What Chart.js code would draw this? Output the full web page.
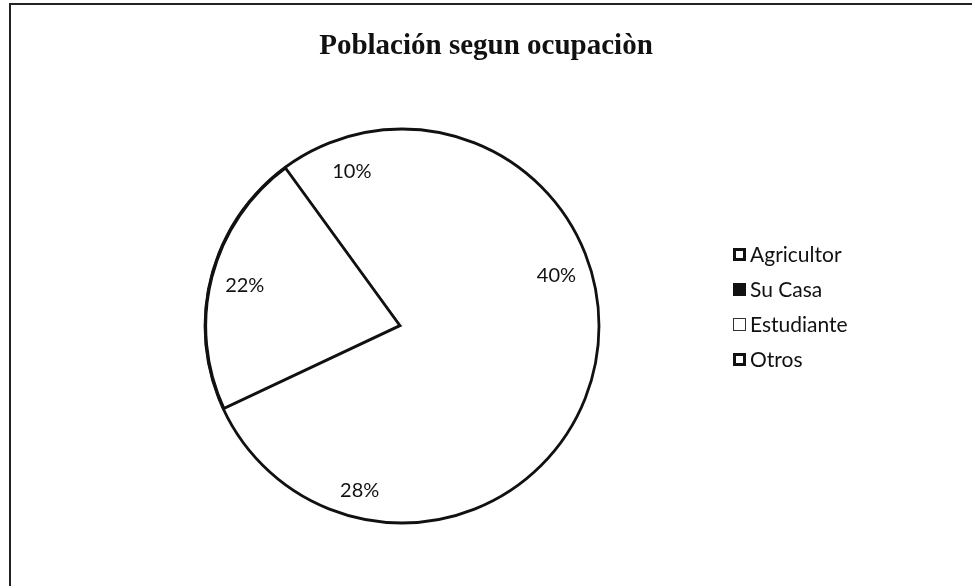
<!DOCTYPE html>
<html>
<head>
<meta charset="utf-8">
<script src="https://cdn.jsdelivr.net/npm/chart.js@4.4.1/dist/chart.umd.min.js"></script>
<style>
  html, body { margin: 0; padding: 0; background: #fff; }
  #wrap { position: relative; width: 972px; height: 586px; overflow: hidden; }
  #frame { position: absolute; left: 9px; top: 3px; width: 980px; height: 600px;
           border-top: 2px solid #222; border-left: 2px solid #222; }
  #title { position: absolute; left: 0; top: 28px; width: 972px; text-align: center;
           font: bold 29px "Liberation Serif", "Times New Roman", serif; color: #111; }
  #chart { position: absolute; left: 0; top: 0; }
  #legend { position: absolute; left: 733px; top: 241px; font: 21px Lato, "Open Sans", sans-serif; color: #111; }
  #legend .item { height: 35px; display: flex; align-items: flex-start; }
  #legend .box { box-sizing: border-box; width: 13px; height: 13px; margin: 7px 4px 0 0; background: #fff; }
</style>
</head>
<body>
<div id="wrap">
  <div id="frame"></div>
  <canvas id="chart" width="972" height="586"></canvas>
  <div id="title"></div>
  <div id="legend"></div>
</div>
<script>
var title = "Población segun ocupaciòn";
var labels = ["Agricultor", "Su Casa", "Estudiante", "Otros"];
var values = [40, 28, 22, 10];

// legend markers as they came out of the scan
var markerBorder = ["3px solid #111", "none", "1.5px solid #333", "3px solid #111"];
var markerFill = ["#fff", "#111", "#fff", "#fff"];

document.getElementById("title").textContent = title;

var legend = document.getElementById("legend");
for (var i = 0; i < labels.length; i++) {
  var item = document.createElement("div");
  item.className = "item";
  var box = document.createElement("span");
  box.className = "box";
  box.style.border = markerBorder[i];
  box.style.background = markerFill[i];
  var txt = document.createElement("span");
  txt.textContent = labels[i];
  item.appendChild(box);
  item.appendChild(txt);
  legend.appendChild(item);
}

// outline of the whole pie + percentage labels inside the slices
var pieExtras = {
  id: "pieExtras",
  afterDatasetsDraw: function(chart) {
    var ctx = chart.ctx;
    var arcs = chart.getDatasetMeta(0).data;
    var a0 = arcs[0];
    ctx.save();
    ctx.strokeStyle = "#111";
    ctx.lineWidth = 2.8;
    ctx.beginPath();
    ctx.arc(a0.x, a0.y, a0.outerRadius - 1, 0, Math.PI * 2);
    ctx.stroke();

    ctx.fillStyle = "#111";
    ctx.font = "20px Lato, 'Open Sans', sans-serif";
    ctx.textAlign = "center";
    ctx.textBaseline = "middle";
    var total = values.reduce(function(s, v) { return s + v; }, 0);
    for (var i = 0; i < arcs.length; i++) {
      var a = arcs[i];
      var mid = (a.startAngle + a.endAngle) / 2;
      var r = a.outerRadius * (i == 1 ? 0.86 : 0.82);
      var pct = Math.round(values[i] / total * 100) + "%";
      ctx.fillText(pct, a.x + Math.cos(mid) * r, a.y + Math.sin(mid) * r);
    }
    ctx.restore();
  }
};

var ctx = document.getElementById("chart").getContext("2d");
var myChart = new Chart(ctx, {
  type: "pie",
  data: {
    labels: labels,
    datasets: [{
      data: values,
      backgroundColor: "#ffffff",
      borderColor: ["#fff", "#fff", "#111", "#fff"],
      borderWidth: [0, 0, 2.8, 0],
      borderAlign: "inner"
    }]
  },
  options: {
    responsive: false,
    animation: false,
    events: [],
    layout: { padding: { left: 204, right: 372, top: 128, bottom: 62 } },
    plugins: {
      legend: { display: false },
      title: { display: false },
      tooltip: { enabled: false }
    }
  },
  plugins: [pieExtras]
});
</script>
</body>
</html>
